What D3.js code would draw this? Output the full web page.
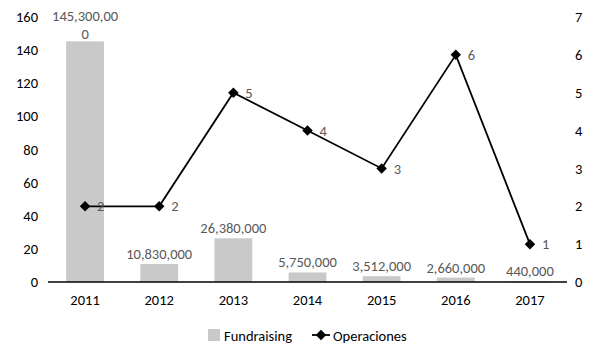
<!DOCTYPE html>
<html><head><meta charset="utf-8">
<script src="https://cdn.jsdelivr.net/npm/d3@7"></script>
<style>body{margin:0;background:#fff}svg{display:block;font-family:Calibri,Carlito,Lato,"Open Sans",sans-serif}</style>
</head><body><svg id="c" width="600" height="360"></svg>
<script>
const years = ["2011","2012","2013","2014","2015","2016","2017"];
const fundraising = [145300000,10830000,26380000,5750000,3512000,2660000,440000];
const operaciones = [2,2,5,4,3,6,1];
const leftTicks = [0,20,40,60,80,100,120,140,160];
const rightTicks = [0,1,2,3,4,5,6,7];

const svg = d3.select("#c");
const x = d3.scaleBand().domain(years).range([48,567]).paddingInner(0.49).paddingOuter(0.245);
const y = d3.scaleLinear().domain([0,160]).range([282,17]);
const y2 = d3.scaleLinear().domain([0,7]).range([282,17]);
const fmt = d3.format(",");

// left axis labels
svg.append("g").selectAll("text").data(leftTicks).join("text")
  .attr("x",38).attr("y",d=>y(d)).attr("dy","0.35em").attr("text-anchor","end")
  .attr("font-size",14.5).attr("fill","#000").text(d=>d);
// right axis labels
svg.append("g").selectAll("text").data(rightTicks).join("text")
  .attr("x",575).attr("y",d=>y2(d)).attr("dy","0.35em").attr("text-anchor","start")
  .attr("font-size",14.5).attr("fill","#000").text(d=>d);

// bars
svg.append("g").selectAll("rect").data(years).join("rect")
  .attr("x",d=>x(d)).attr("width",x.bandwidth())
  .attr("y",(d,i)=>y(fundraising[i]/1e6)).attr("height",(d,i)=>y(0)-y(fundraising[i]/1e6))
  .attr("fill","#c9c9c9");

// axis line
svg.append("line").attr("x1",48).attr("x2",567).attr("y1",y(0)).attr("y2",y(0))
  .attr("stroke","#000").attr("stroke-width",1.3);

// category labels
svg.append("g").selectAll("text").data(years).join("text")
  .attr("x",d=>x(d)+x.bandwidth()/2).attr("y",300).attr("dy","0.35em")
  .attr("text-anchor","middle").attr("font-size",14.5).attr("fill","#000").text(d=>d);

// bar value labels (first one wrapped onto two lines, as in the reference)
const vl = svg.append("g").attr("font-size",14.5).attr("fill","#595959").attr("text-anchor","middle");
years.forEach((d,i)=>{
  const cx = x(d)+x.bandwidth()/2;
  const s = fmt(fundraising[i]);
  const top = y(fundraising[i]/1e6);
  if (i===0) {
    vl.append("text").attr("x",cx).attr("y",y(160)-1).attr("dy","0.35em").text(s.slice(0,-1));
    vl.append("text").attr("x",cx).attr("y",y(160)+16.5).attr("dy","0.35em").text(s.slice(-1));
  } else {
    vl.append("text").attr("x",cx).attr("y",top-5).text(s);
  }
});

// line
const line = d3.line().x((d,i)=>x(years[i])+x.bandwidth()/2).y(d=>y2(d));
svg.append("path").datum(operaciones).attr("d",line).attr("fill","none")
  .attr("stroke","#000").attr("stroke-width",1.8);
const diamond = d3.symbol().type(d3.symbolDiamond2).size(70);
svg.append("g").selectAll("path").data(operaciones).join("path")
  .attr("d",diamond).attr("transform",(d,i)=>`translate(${x(years[i])+x.bandwidth()/2},${y2(d)})`)
  .attr("fill","#000");
svg.append("g").selectAll("text").data(operaciones).join("text")
  .attr("x",(d,i)=>x(years[i])+x.bandwidth()/2+12).attr("y",d=>y2(d)).attr("dy","0.35em")
  .attr("font-size",14.5).attr("fill","#595959").text(d=>d);

// legend
const lg = svg.append("g");
lg.append("rect").attr("x",208).attr("y",329).attr("width",12).attr("height",12).attr("fill","#c9c9c9");
lg.append("text").attr("x",224).attr("y",336).attr("dy","0.35em").attr("font-size",14.5).attr("fill","#000").text("Fundraising");
lg.append("line").attr("x1",312).attr("x2",330).attr("y1",335).attr("y2",335).attr("stroke","#000").attr("stroke-width",1.8);
lg.append("path").attr("d",diamond).attr("transform","translate(321,335)").attr("fill","#000");
lg.append("text").attr("x",333).attr("y",336).attr("dy","0.35em").attr("font-size",14.5).attr("fill","#000").text("Operaciones");
</script></body></html>
